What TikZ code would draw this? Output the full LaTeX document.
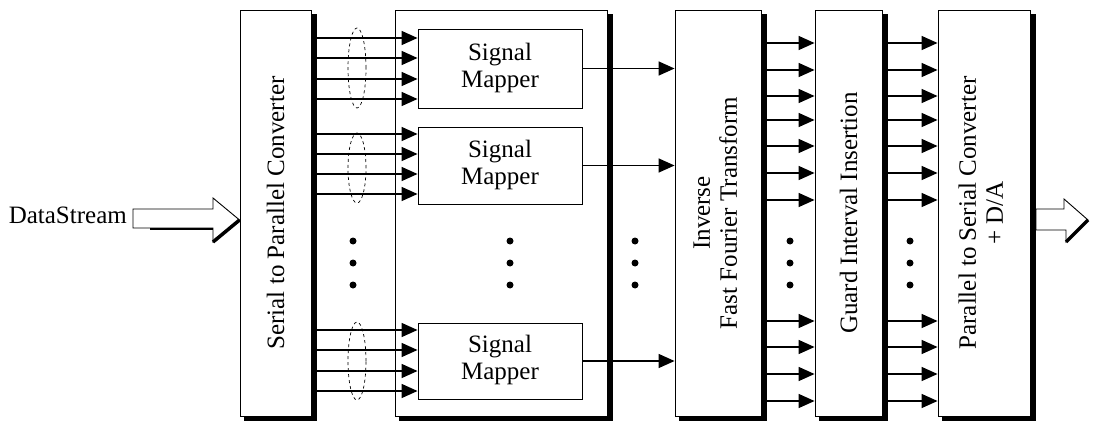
\documentclass[tikz,border=0pt]{standalone}
\usepackage{fontspec}
\setmainfont{Liberation Serif}
\usetikzlibrary{arrows.meta,shapes.geometric}
\begin{document}
\begin{tikzpicture}[x=1pt,y=-1pt,
  font=\fontsize{25}{27}\selectfont,
  blk/.style={draw, fill=white, line width=0.9pt, inner sep=0pt, minimum height=406pt},
  mapbox/.style={draw, fill=white, line width=0.9pt, inner sep=0pt, minimum width=164pt},
  arr/.style={line width=1.5pt, -{Triangle[length=16pt,width=14pt]}},
  dot/.style={circle, fill=black, inner sep=0pt, minimum size=7pt},
  grp/.style={draw, dashed, ellipse, line width=0.7pt, inner sep=0pt, minimum width=18pt},
  hollow/.style={draw, fill=white, line width=0.9pt},
  shadowbox/.style={fill=black}
]
\useasboundingbox (0,0) rectangle (1094,425);

% shadows: black rectangles offset right and down behind each block
\fill[shadowbox] (244,14) rectangle (317,421);
\fill[shadowbox] (399,14) rectangle (613,421);
\fill[shadowbox] (679,14) rectangle (767,421);
\fill[shadowbox] (819,14) rectangle (888,421);
\fill[shadowbox] (942,14) rectangle (1036,421);

% main blocks
\node[blk, minimum width=71pt] (sp) at (275.5,213) {\rotatebox{90}{Serial to Parallel Converter}};
\node[blk, minimum width=212pt] (mo) at (501,213) {};
\node[blk, minimum width=86pt] (ifft) at (718,213)
  {\rotatebox{90}{\begin{tabular}{@{}c@{}}Inverse\\Fast Fourier Transform\end{tabular}}};
\node[blk, minimum width=67pt] (gi) at (848.5,213) {\rotatebox{90}{Guard Interval Insertion}};
\node[blk, minimum width=92pt] (ps) at (984,213)
  {\rotatebox{90}{\begin{tabular}{@{}c@{}}Parallel to Serial Converter\\+ D/A\end{tabular}}};

% signal mappers
\node[mapbox, minimum height=79pt] (m1) at (500,68.5) {\begin{tabular}{@{}c@{}}Signal\\Mapper\end{tabular}};
\node[mapbox, minimum height=77pt] (m2) at (500,165.5) {\begin{tabular}{@{}c@{}}Signal\\Mapper\end{tabular}};
\node[mapbox, minimum height=76pt] (m3) at (500,361) {\begin{tabular}{@{}c@{}}Signal\\Mapper\end{tabular}};

% S/P to mappers
\foreach \y in {38,58,79,99} \draw[arr] (sp.east |- 0,\y) -- (m1.west |- 0,\y);
\foreach \y in {134,154,174,194} \draw[arr] (sp.east |- 0,\y) -- (m2.west |- 0,\y);
\foreach \y in {330,350,371,391} \draw[arr] (sp.east |- 0,\y) -- (m3.west |- 0,\y);

% grouping ellipses
\node[grp, minimum height=80pt] (e1) at (357,68) {};
\node[grp, minimum height=70pt] (e2) at (357,168) {};
\node[grp, minimum height=78pt] (e3) at (357,361) {};

% mappers to IFFT
\foreach \m in {m1,m2,m3} \draw[arr] (\m.east) -- (ifft.west |- \m.east);

% IFFT to guard, guard to P/S
\foreach \y in {43,70,96,120,146,173,200,321,347,374,401} {
  \draw[arr] (ifft.east |- 0,\y) -- (gi.west |- 0,\y);
  \draw[arr] (gi.east |- 0,\y) -- (ps.west |- 0,\y);
}

% ellipsis dots
\foreach \x/\n in {353/a,510/b,635/c,790/d,910/e}
  \foreach \y/\k in {241/1,263/2,285/3}
    \node[dot] (dot\n\k) at (\x,\y) {};

% input and output hollow arrows
\node[anchor=east, inner sep=0pt] (ds) at (127,215) {DataStream};
\coordinate (intip) at (sp.west |- 0,220);
\draw[hollow] (133,209) -- (213,209) -- (213,198) -- (intip) -- (213,242) -- (213,228) -- (133,228) -- cycle;
\draw[line width=3.5pt] (intip) -- (213,242);
\draw[line width=2pt] (150,229) -- (213,229);
\coordinate (outtip) at (1088,220);
\draw[hollow] (1036,209) -- (1064,209) -- (1064,199) -- (outtip) -- (1066,242) -- (1066,230) -- (1036,230) -- cycle;
\draw[line width=3.5pt] (outtip) -- (1066,242);
\end{tikzpicture}
\end{document}
